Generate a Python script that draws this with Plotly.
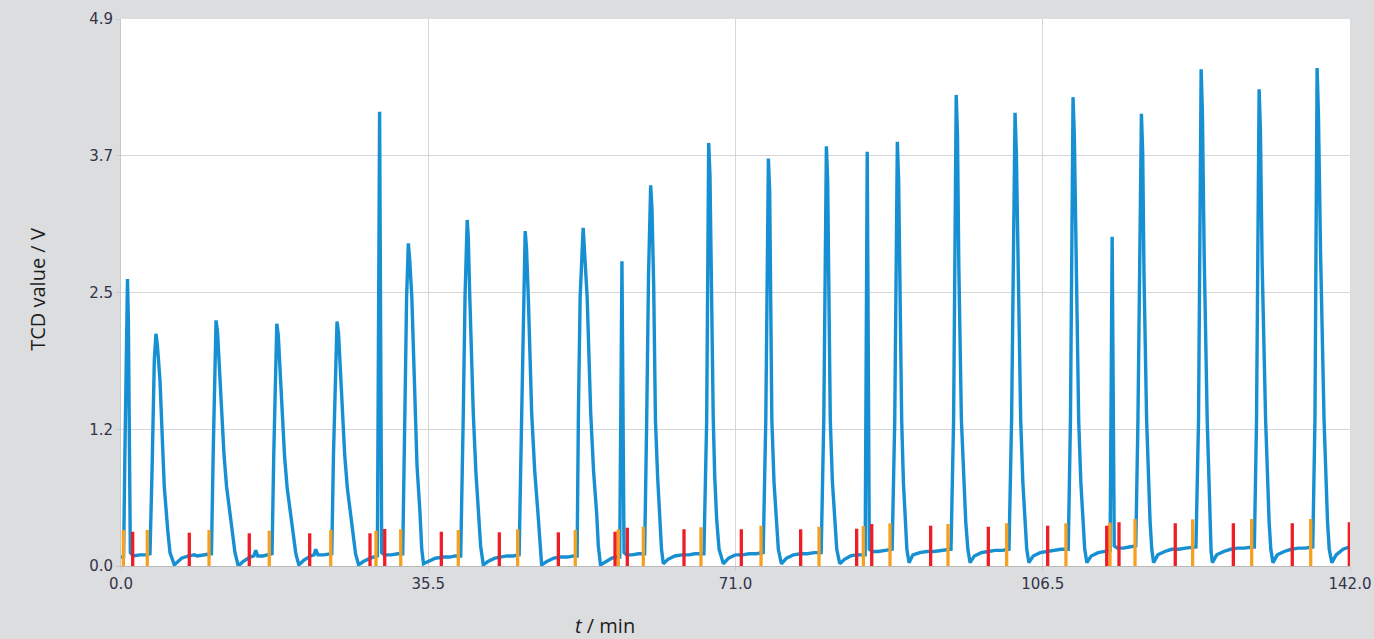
import plotly.graph_objects as go

# ---- axis ticks ----
x_tickvals = [0, 35.5, 71.0, 106.5, 142.0]
x_ticktext = ["0.0", "35.5", "71.0", "106.5", "142.0"]
y_tickvals = [0, 1.225, 2.45, 3.675, 4.9]
y_ticktext = ["0.0", "1.2", "2.5", "3.7", "4.9"]

# ---- TCD signal (t / min, value / V) ----
tcd_points = [
    (0.0, 0.08), (0.3, 0.08), (0.45, 1.0), (0.62, 2.2), (0.75, 2.57), (0.85, 2.2), (0.95, 1.0),
    (1.08, 0.12), (1.4, 0.09), (2.2, 0.10), (3.0, 0.10), (3.35, 0.11),
    # peak 2
    (3.6, 0.9), (3.85, 1.85), (4.04, 2.08), (4.2, 1.98), (4.5, 1.67), (4.7, 1.31), (5.0, 0.71),
    (5.4, 0.32), (5.66, 0.12), (6.16, 0.01), (7.0, 0.07), (7.8, 0.09), (8.5, 0.10), (8.8, 0.09),
    (9.6, 0.10), (10.2, 0.10),
    # peak 3
    (10.45, 0.11), (10.65, 1.0), (10.85, 2.0), (10.98, 2.20), (11.15, 2.1), (11.4, 1.75),
    (11.63, 1.31), (11.9, 1.0), (12.2, 0.71), (12.8, 0.32), (13.17, 0.12), (13.55, 0.0),
    (14.1, 0.04), (14.9, 0.08), (15.35, 0.09), (15.57, 0.14), (15.8, 0.09), (16.4, 0.09),
    (17.0, 0.10), (17.4, 0.11),
    # peak 4
    (17.45, 0.11), (17.65, 1.0), (17.87, 2.0), (18.0, 2.17), (18.17, 2.07), (18.4, 1.72),
    (18.63, 1.31), (18.9, 0.98), (19.2, 0.70), (19.8, 0.31), (20.2, 0.11), (20.55, 0.01),
    (21.1, 0.05), (21.9, 0.09), (22.3, 0.10), (22.5, 0.15), (22.75, 0.10), (23.4, 0.10),
    (24.0, 0.11), (24.35, 0.11),
    # peak 5
    (24.55, 1.0), (24.82, 2.0), (24.96, 2.19), (25.13, 2.09), (25.36, 1.74), (25.6, 1.31),
    (25.85, 0.99), (26.15, 0.70), (26.75, 0.31), (27.1, 0.11), (27.45, 0.01), (28.0, 0.04),
    (28.8, 0.07), (29.4, 0.08),
    # spike 6
    (29.62, 0.09), (29.88, 4.07), (30.12, 0.12), (30.4, 0.10), (31.2, 0.10), (32.0, 0.11),
    (32.5, 0.11),
    # peak 7
    (32.55, 0.11), (32.8, 1.37), (33.0, 2.41), (33.2, 2.89), (33.35, 2.75), (33.6, 2.41),
    (33.97, 1.37), (34.2, 0.9), (34.55, 0.47), (34.75, 0.15), (34.95, 0.02), (35.5, 0.04),
    (36.3, 0.07), (37.3, 0.08), (38.0, 0.08), (38.6, 0.09), (39.1, 0.09),
    # peak 8
    (39.25, 0.09), (39.55, 1.37), (39.75, 2.41), (40.0, 3.10), (40.12, 2.95), (40.3, 2.41),
    (40.7, 1.37), (41.0, 0.85), (41.3, 0.47), (41.55, 0.18), (41.86, 0.01), (42.4, 0.04),
    (43.2, 0.07), (44.0, 0.08), (44.6, 0.09), (45.3, 0.09), (45.95, 0.10),
    # peak 9
    (46.0, 0.10), (46.3, 1.37), (46.5, 2.41), (46.7, 3.00), (46.85, 2.85), (47.06, 2.41),
    (47.45, 1.37), (47.8, 0.85), (48.18, 0.47), (48.4, 0.18), (48.6, 0.01), (49.2, 0.04),
    (50.0, 0.07), (50.8, 0.08), (51.6, 0.08), (52.3, 0.09), (52.65, 0.09),
    # peak 10
    (52.7, 0.09), (52.85, 1.37), (53.05, 2.41), (53.4, 3.03), (53.55, 2.85), (53.86, 2.41),
    (54.27, 1.37), (54.6, 0.85), (54.96, 0.47), (55.15, 0.18), (55.4, 0.01), (56.0, 0.04),
    (56.7, 0.07), (57.3, 0.08),
    # spike 11
    (57.62, 0.08), (57.88, 2.73), (58.12, 0.12), (58.4, 0.10), (59.0, 0.10), (59.8, 0.11),
    (60.45, 0.11),
    # peak 12
    (60.5, 0.11), (60.74, 1.31), (60.95, 2.6), (61.2, 3.41), (61.35, 3.2), (61.55, 2.5),
    (61.75, 1.31), (62.0, 0.8), (62.3, 0.4), (62.45, 0.15), (62.66, 0.02), (63.2, 0.06),
    (64.0, 0.09), (64.8, 0.10), (65.6, 0.10), (66.3, 0.11), (67.1, 0.11),
    # peak 13
    (67.35, 0.11), (67.67, 1.31), (67.8, 2.8), (67.9, 3.79), (68.05, 3.5), (68.2, 2.6),
    (68.43, 1.31), (68.6, 0.8), (68.83, 0.41), (69.1, 0.15), (69.6, 0.02), (70.2, 0.07),
    (71.0, 0.10), (71.8, 0.10), (72.6, 0.11), (73.4, 0.11), (74.05, 0.12),
    # peak 14
    (74.2, 0.12), (74.5, 1.31), (74.65, 2.8), (74.8, 3.65), (74.95, 3.35), (75.05, 2.5),
    (75.2, 1.31), (75.45, 0.75), (75.7, 0.4), (75.95, 0.15), (76.3, 0.02), (76.9, 0.07),
    (77.7, 0.10), (78.5, 0.11), (79.3, 0.11), (80.1, 0.12), (80.75, 0.12),
    # peak 15
    (80.9, 0.12), (81.2, 1.31), (81.35, 2.8), (81.5, 3.76), (81.65, 3.45), (81.78, 2.5),
    (81.95, 1.31), (82.2, 0.75), (82.45, 0.4), (82.7, 0.15), (83.05, 0.02), (83.6, 0.06),
    (84.3, 0.09), (85.0, 0.10), (85.6, 0.10),
    # spike 16
    (85.98, 0.10), (86.22, 3.71), (86.46, 0.15), (86.8, 0.13), (87.5, 0.13), (88.3, 0.14),
    (88.95, 0.15),
    # peak 17
    (89.1, 0.15), (89.4, 1.31), (89.55, 2.8), (89.7, 3.80), (89.85, 3.45), (89.98, 2.5),
    (90.2, 1.31), (90.4, 0.75), (90.6, 0.4), (90.8, 0.15), (91.05, 0.03), (91.5, 0.10),
    (92.3, 0.12), (93.1, 0.13), (93.9, 0.13), (94.7, 0.14), (95.65, 0.15),
    # peak 18
    (95.9, 0.15), (96.2, 1.31), (96.35, 3.0), (96.5, 4.22), (96.65, 3.85), (96.8, 2.7),
    (97.1, 1.31), (97.35, 0.75), (97.6, 0.4), (97.85, 0.15), (98.1, 0.03), (98.6, 0.09),
    (99.4, 0.12), (100.2, 0.13), (101.0, 0.14), (101.8, 0.14), (102.45, 0.15),
    # peak 19
    (102.6, 0.15), (102.9, 1.31), (103.1, 3.0), (103.3, 4.06), (103.45, 3.7), (103.65, 2.6),
    (103.95, 1.31), (104.2, 0.75), (104.45, 0.4), (104.65, 0.15), (104.9, 0.03), (105.4, 0.09),
    (106.2, 0.12), (107.0, 0.13), (107.8, 0.14), (108.6, 0.15), (109.3, 0.15),
    # peak 20
    (109.45, 0.15), (109.7, 1.31), (109.85, 3.0), (110.0, 4.20), (110.15, 3.85), (110.35, 2.7),
    (110.65, 1.31), (110.9, 0.75), (111.15, 0.4), (111.35, 0.15), (111.6, 0.03), (112.1, 0.09),
    (112.9, 0.12), (113.6, 0.13), (114.1, 0.14),
    # spike 21
    (114.28, 0.14), (114.52, 2.95), (114.76, 0.18), (115.1, 0.16), (115.8, 0.16), (116.5, 0.17),
    (117.2, 0.18),
    # peak 22
    (117.25, 0.18), (117.5, 1.31), (117.7, 3.0), (117.9, 4.05), (118.05, 3.7), (118.2, 2.6),
    (118.5, 1.31), (118.7, 0.75), (118.9, 0.4), (119.1, 0.15), (119.3, 0.03), (119.8, 0.10),
    (120.6, 0.13), (121.4, 0.15), (122.2, 0.15), (123.0, 0.16), (123.9, 0.17),
    # peak 23
    (124.2, 0.17), (124.5, 1.31), (124.65, 3.2), (124.8, 4.45), (124.95, 4.05), (125.15, 2.8),
    (125.5, 1.31), (125.7, 0.7), (125.85, 0.35), (125.95, 0.13), (126.1, 0.03), (126.6, 0.10),
    (127.4, 0.13), (128.2, 0.15), (129.0, 0.16), (129.8, 0.16), (130.7, 0.17),
    # peak 24
    (130.95, 0.17), (131.2, 1.31), (131.35, 3.1), (131.5, 4.27), (131.65, 3.9), (131.85, 2.7),
    (132.25, 1.31), (132.45, 0.75), (132.65, 0.4), (132.85, 0.15), (133.1, 0.03), (133.6, 0.10),
    (134.4, 0.13), (135.2, 0.15), (136.0, 0.16), (136.8, 0.16), (137.6, 0.17),
    # peak 25
    (137.7, 0.17), (137.95, 1.31), (138.08, 3.2), (138.2, 4.46), (138.35, 4.05), (138.6, 2.8),
    (139.0, 1.31), (139.2, 0.75), (139.4, 0.4), (139.6, 0.15), (139.9, 0.03), (140.4, 0.10),
    (141.2, 0.15), (141.9, 0.17),
]

# ---- orange markers (t / min, top / V) ----
orange_t = [0.27, 3.04, 10.17, 17.13, 24.23, 29.46, 32.32, 38.97, 45.83, 52.49, 57.46, 60.35,
            67.01, 73.95, 80.65, 85.77, 88.85, 95.55, 102.33, 109.18, 114.27, 117.16, 123.82,
            130.64, 137.46]
orange_top = [0.323, 0.323, 0.323, 0.316, 0.323, 0.316, 0.329, 0.323, 0.329, 0.323, 0.329, 0.352,
              0.347, 0.361, 0.352, 0.358, 0.383, 0.376, 0.383, 0.383, 0.388, 0.421, 0.418,
              0.421, 0.421]

# ---- red markers (t / min, top / V) ----
red_t = [1.35, 7.89, 14.82, 21.80, 28.77, 30.47, 37.01, 43.71, 50.53, 57.08, 58.50, 65.05,
         71.67, 78.53, 85.00, 86.74, 93.55, 100.21, 107.07, 113.89, 115.31, 121.81, 128.52,
         135.33, 141.92]
red_top = [0.307, 0.298, 0.293, 0.293, 0.293, 0.332, 0.307, 0.302, 0.302, 0.307, 0.343, 0.329,
           0.329, 0.329, 0.334, 0.376, 0.361, 0.352, 0.361, 0.361, 0.392, 0.383, 0.383,
           0.383, 0.392]

BLUE = "#1790d3"
ORANGE = "#f7a020"
RED = "#ee1d26"
PAPER = "#dcdddf"


def stems(ts, tops):
    xs, ys = [], []
    for t, v in zip(ts, tops):
        xs += [t, t, None]
        ys += [0, v, None]
    return xs, ys


fig = go.Figure()

tcd_t = [p[0] for p in tcd_points]
tcd_v = [p[1] for p in tcd_points]
fig.add_trace(go.Scatter(x=tcd_t, y=tcd_v, mode="lines",
                         line=dict(color=BLUE, width=3.4), hoverinfo="skip", showlegend=False))

ox, oy = stems(orange_t, orange_top)
fig.add_trace(go.Scatter(x=ox, y=oy, mode="lines", line=dict(color=ORANGE, width=3.3),
                         hoverinfo="skip", showlegend=False))
rx, ry = stems(red_t, red_top)
fig.add_trace(go.Scatter(x=rx, y=ry, mode="lines", line=dict(color=RED, width=3.3),
                         hoverinfo="skip", showlegend=False))

tick_font = dict(family="DejaVu Sans", size=15, color="#33334a")

fig.update_layout(
    width=1374, height=639,
    autosize=False,
    margin=dict(l=121, r=24, t=19, b=73, pad=0),
    paper_bgcolor=PAPER,
    plot_bgcolor="#ffffff",
    showlegend=False,
    xaxis=dict(range=[0, 142], tickvals=x_tickvals, ticktext=x_ticktext, automargin=False,
               showgrid=True, gridcolor="#d6d6d6", gridwidth=1, zeroline=False,
               showline=True, linecolor="#b8b8b8", linewidth=1,
               ticks="outside", ticklen=4, tickcolor="#c8c8c8",
               tickfont=tick_font),
    yaxis=dict(range=[0, 4.9], tickvals=y_tickvals, ticktext=y_ticktext, automargin=False,
               showgrid=True, gridcolor="#d6d6d6", gridwidth=1, zeroline=False,
               showline=True, linecolor="#c8c8c8", linewidth=1,
               ticks="outside", ticklen=4, tickcolor="#c8c8c8",
               tickfont=tick_font),
    annotations=[
        dict(text="<i>t</i> / min", xref="paper", yref="paper", x=0.394, y=-0.108,
             xanchor="center", yanchor="middle", showarrow=False,
             font=dict(family="Open Sans", size=20, color="#1e1e1e")),
        dict(text="TCD value / V", xref="paper", yref="paper", x=-0.0675, y=0.505,
             xanchor="center", yanchor="middle", showarrow=False, textangle=-90,
             font=dict(family="Open Sans", size=20, color="#1e1e1e")),
    ],
)

page_js = ("document.body.style.margin='0';document.body.style.padding='0';"
           "document.body.style.overflow='hidden';"
           "document.body.style.background='" + PAPER + "';")

fig.write_html("out.html", post_script=page_js, config={"displayModeBar": False})
